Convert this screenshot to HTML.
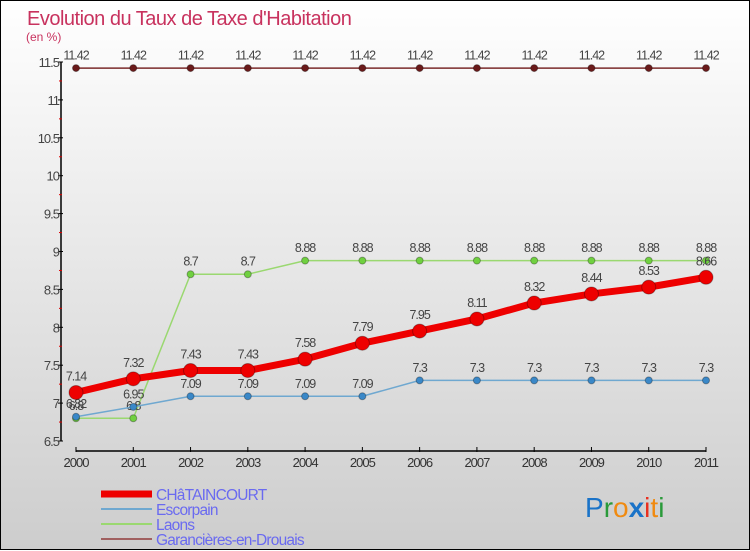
<!DOCTYPE html>
<html><head><meta charset="utf-8">
<style>
html,body{margin:0;padding:0}
body{width:750px;height:550px;overflow:hidden;font-family:"Liberation Sans",sans-serif}
#wrap{position:relative;width:748px;height:548px;border:1px solid #000;background:linear-gradient(#ffffff,#cdcdcd)}
svg{position:absolute;left:0;top:0}
</style></head>
<body>
<div id="wrap">
<svg id="chart" width="750" height="550">
<text x="26" y="24" font-size="20" fill="#c8325e" letter-spacing="-0.5">Evolution du Taux de Taxe d'Habitation</text>
<text x="25" y="40" font-size="12" fill="#c8325e">(en %)</text>
<g id="axes"></g>
<g id="series"></g>
<g id="legend"></g>
<text x="584" y="516" font-size="28" font-family="Liberation Sans, sans-serif"><tspan fill="#1a73c8">P</tspan><tspan fill="#2a9a3a">r</tspan><tspan fill="#f08a10">o</tspan><tspan fill="#1a73c8" font-weight="bold">x</tspan><tspan fill="#e83020">i</tspan><tspan fill="#f08a10">t</tspan><tspan fill="#2a9a3a">i</tspan></text>
</svg>
</div>
<script>
const years = ["2000","2001","2002","2003","2004","2005","2006","2007","2008","2009","2010","2011"];
const yTicks = [6.5,7,7.5,8,8.5,9,9.5,10,10.5,11,11.5];
const chataincourt = [7.14,7.32,7.43,7.43,7.58,7.79,7.95,8.11,8.32,8.44,8.53,8.66];
const escorpain = [6.82,6.95,7.09,7.09,7.09,7.09,7.3,7.3,7.3,7.3,7.3,7.3];
const laons = [6.8,6.8,8.7,8.7,8.88,8.88,8.88,8.88,8.88,8.88,8.88,8.88];
const garancieres = [11.42,11.42,11.42,11.42,11.42,11.42,11.42,11.42,11.42,11.42,11.42,11.42];
const seriesNames = ["CHâTAINCOURT","Escorpain","Laons","Garancières-en-Drouais"];

const NS="http://www.w3.org/2000/svg";
const xS=i=>75+i*(630/(years.length-1));
const yS=v=>440-(v-6.5)*75.8;
function mk(tag,attrs,parent){const e=document.createElementNS(NS,tag);for(const k in attrs)e.setAttribute(k,attrs[k]);parent.appendChild(e);return e;}
const axes=document.getElementById('axes');
let a=mk('line',{x1:60,y1:yS(11.5),x2:60,y2:yS(6.5),stroke:'#000','stroke-width':1.5},axes);


yTicks.forEach((t,i)=>{
  mk('line',{x1:57,y1:yS(t),x2:62,y2:yS(t),stroke:'#000'},axes);
  if(i<yTicks.length-1) mk('line',{x1:58,y1:yS(t+0.25),x2:61,y2:yS(t+0.25),stroke:'#d00'},axes);
  const tx=mk('text',{x:58,y:yS(t)+5,'font-size':13,fill:'#444','text-anchor':'end','letter-spacing':'-1'},axes);
  tx.textContent=String(t);
  
  
});
a=mk('line',{x1:75,y1:450,x2:705,y2:450,stroke:'#000','stroke-width':1.5},axes);


years.forEach((y,i)=>{
  mk('line',{x1:xS(i),y1:446,x2:xS(i),y2:451,stroke:'#000'},axes);
  const tx=mk('text',{x:xS(i),y:466,'font-size':13,fill:'#333','text-anchor':'middle','letter-spacing':'-1'},axes);
  tx.textContent=y;
  
  
});
const ser=document.getElementById('series');
function draw(vals,color,w,r,name,fill){
  const g=mk('g',{},ser);
  
  
  mk('polyline',{points:vals.map((v,i)=>xS(i)+','+yS(v)).join(' '),fill:'none',stroke:color,'stroke-width':w,'stroke-linejoin':'round'},g);
  vals.forEach((v,i)=>{
    const c=mk('circle',{cx:xS(i),cy:yS(v),r:r,fill:fill,stroke:'rgba(0,0,0,0.3)','stroke-width':1},g);
    
    
    const t=mk('text',{x:xS(i),y:yS(v)-r-5,'font-size':12.5,fill:'#444','text-anchor':'middle','letter-spacing':'-1'},g);
    t.textContent=String(v);
    
    
  });
}
draw(garancieres,'#7a2a2a',1.5,3.5,'garancieres-series','#6a1a1a');
draw(laons,'#9ad870',1.5,3.5,'laons-series','#70d040');
draw(escorpain,'#6fa8d0',1.5,3.5,'escorpain-series','#3a88c8');
draw(chataincourt,'#ee0000',7,7,'chataincourt-series','#ee0000');
const leg=document.getElementById('legend');
const lc=['#ee0000','#6fa8d0','#9ad870','#a06060'],lw=[7,2,2,2];
seriesNames.forEach((n,i)=>{
  const y=493+i*15;
  const g=mk('g',{},leg);
  
  
  mk('line',{x1:100,y1:y,x2:151,y2:y,stroke:lc[i],'stroke-width':lw[i]},g);
  const t=mk('text',{x:155,y:y+6,'font-size':15.5,fill:'#6a6af0','letter-spacing':'-0.8'},g);
  t.textContent=n;
});
</script>
</body></html>
